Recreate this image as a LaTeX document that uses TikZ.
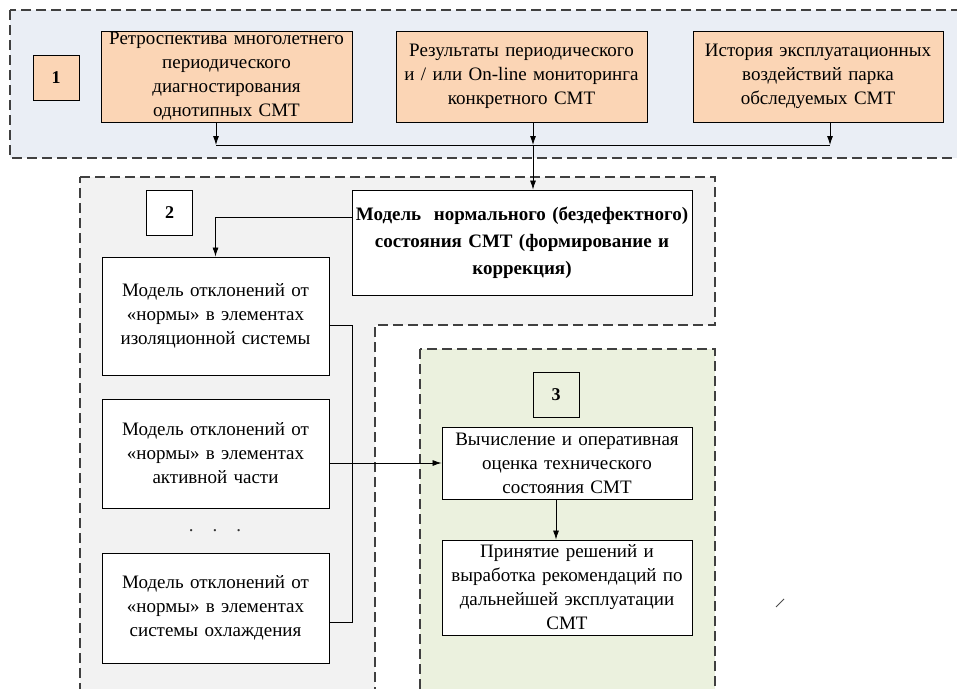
\documentclass[tikz,border=0pt]{standalone}
\usepackage{fontspec}
\setmainfont{Liberation Serif}
\usetikzlibrary{calc,arrows.meta}

\definecolor{zoneblue}{HTML}{EAEEF5}
\definecolor{zonegray}{HTML}{F2F2F2}
\definecolor{zonegreen}{HTML}{EBF1DE}
\definecolor{srcfill}{HTML}{FBD5B5}

\begin{document}
\begin{tikzpicture}[x=1pt,y=-1pt,
    blk/.style 2 args={draw,line width=0.9pt,inner sep=0pt,align=center,
      text width=#1,minimum height=#2,font=\fontsize{19}{24}\selectfont},
    num/.style={draw,line width=0.9pt,inner sep=0pt,minimum width=46pt,
      minimum height=45pt,font=\fontsize{18}{22}\selectfont\bfseries},
    zone/.style={draw=black!75,dash pattern=on 10pt off 5pt,line width=1.2pt},
    arr/.style={-{Latex[length=9pt,width=6pt]},line width=0.8pt}]
    \clip (0,0) rectangle (957,688);
    \fill[white] (0,0) rectangle (957,688);
    % three zones
    \draw[zone,fill=zoneblue] (10,10) rectangle (975,158);
    \draw[zone,fill=zonegray] (80,177) -- (715,177) -- (715,325)
      -- (375,325) -- (375,700) -- (80,700) -- cycle;
    \draw[zone,fill=zonegreen] (420,349) rectangle (715,700);
    % zone 1
    \node[num,fill=srcfill] (n1) at (56,77.5) {1};
    \node[blk={251pt}{91pt},fill=srcfill] (retro) at (226.5,76.5)
      {Ретроспектива многолетнего\\ периодического\\ диагностирования\\ однотипных СМТ};
    \node[blk={251pt}{91pt},fill=srcfill] (monit) at (521.5,76.5)
      {Результаты периодического\\ и / или On-line мониторинга\\ конкретного СМТ};
    \node[blk={250pt}{91pt},fill=srcfill] (hist) at (818,76.5)
      {История эксплуатационных\\ воздействий парка\\ обследуемых СМТ};
    \coordinate (busA) at (216,145);
    \coordinate (busC) at (830,145);
    \coordinate (jn) at (533,145);
    % zone 2
    \node[num,fill=white] (n2) at (169.5,212.5) {2};
    \node[blk={340pt}{105pt},fill=white,font=\fontsize{19}{27}\selectfont\bfseries] (norm) at (522,242.5)
      {Модель~ нормального (бездефектного)\\ состояния СМТ (формирование и\\ коррекция)};
    \node[blk={227pt}{118pt},fill=white] (isol) at (215.5,316)
      {Модель отклонений от\\ «нормы» в элементах\\ изоляционной системы};
    \node[blk={227pt}{109pt},fill=white] (activ) at (215.5,453.5)
      {Модель отклонений от\\ «нормы» в элементах\\ активной части};
    \node[font=\fontsize{19}{24}\selectfont,text=black!80] (dots) at (215,531) {.\quad.\quad.};
    \node[blk={227pt}{110pt},fill=white] (cool) at (215.5,608)
      {Модель отклонений от\\ «нормы» в элементах\\ системы охлаждения};
    \coordinate (busD) at (352,325);
    \coordinate (busF) at (352,622);
    % zone 3
    \node[num,fill=zonegreen] (n3) at (556,394.5) {3};
    \node[blk={250pt}{72pt},fill=white] (calc) at (567,463)
      {Вычисление и оперативная\\ оценка технического\\ состояния СМТ};
    \node[blk={250pt}{95pt},fill=white] (dec) at (567,587.5)
      {Принятие решений и\\ выработка рекомендаций по\\ дальнейшей эксплуатации\\ СМТ};
    % connectors
    \draw[arr] (retro.south -| busA) -- (busA);
    \draw[arr] (monit.south -| jn) -- (jn);
    \draw[arr] (hist.south -| busC) -- (busC);
    \draw[line width=0.8pt] (busA) -- (busC);
    \draw[arr] (jn) -- (jn |- norm.north);
    \draw[arr] ($(norm.west)+(0,-25.5)$) -| (isol.north);
    \draw[line width=0.8pt] (isol.east |- busD) -- (busD) -- (busF)
      -- (cool.east |- busF);
    \draw[arr] (calc.west -| activ.east) -- (calc.west);
    \draw[arr] (calc.south -| n3) -- (dec.north -| n3);
    \draw[black!70,line width=0.8pt] (776,607) -- (784,599);
\end{tikzpicture}
\end{document}
